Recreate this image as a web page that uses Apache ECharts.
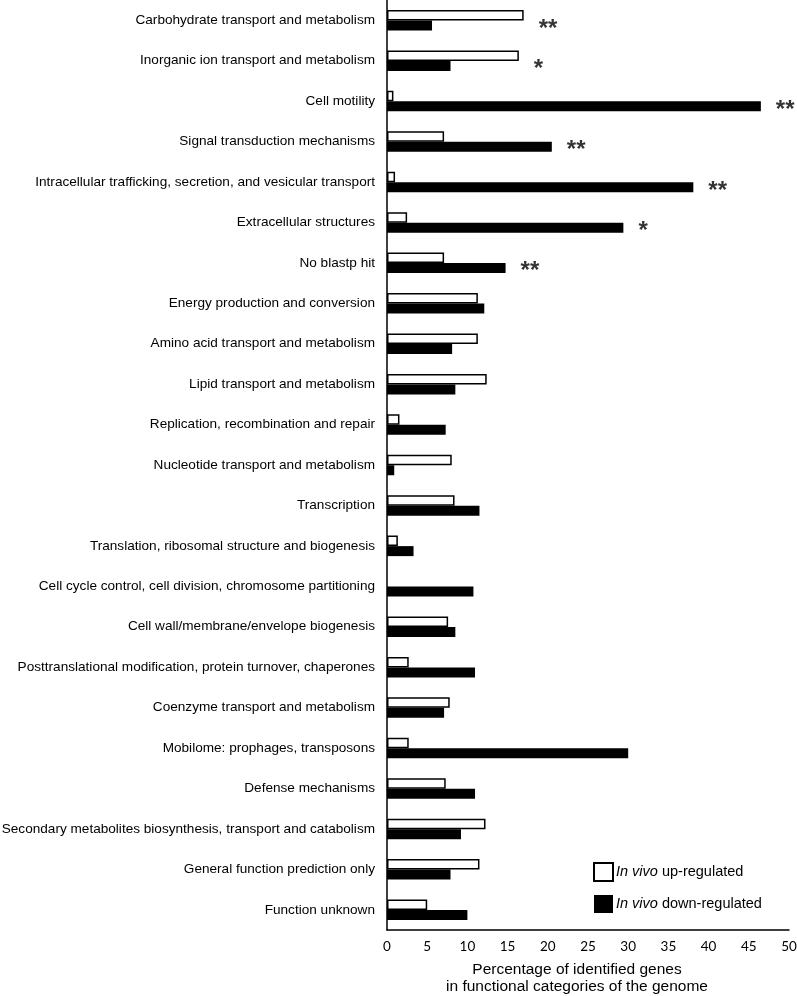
<!DOCTYPE html>
<html>
<head>
<meta charset="utf-8">
<script src="https://cdn.jsdelivr.net/npm/echarts@6/dist/echarts.min.js"></script>
<style>
html,body{margin:0;padding:0;background:#fff;}
#chart{width:797px;height:996px;}
</style>
</head>
<body>
<div id="chart"></div>
<script>
var categories = [
  "Carbohydrate transport and metabolism",
  "Inorganic ion transport and metabolism",
  "Cell motility",
  "Signal transduction mechanisms",
  "Intracellular trafficking, secretion, and vesicular transport",
  "Extracellular structures",
  "No blastp hit",
  "Energy production and conversion",
  "Amino acid transport and metabolism",
  "Lipid transport and metabolism",
  "Replication, recombination and repair",
  "Nucleotide transport and metabolism",
  "Transcription",
  "Translation, ribosomal structure and biogenesis",
  "Cell cycle control, cell division, chromosome partitioning",
  "Cell wall/membrane/envelope biogenesis",
  "Posttranslational modification, protein turnover, chaperones",
  "Coenzyme transport and metabolism",
  "Mobilome: prophages, transposons",
  "Defense mechanisms",
  "Secondary metabolites biosynthesis, transport and catabolism",
  "General function prediction only",
  "Function unknown"
];
var upRegulated = [17.0, 16.4, 0.8, 7.1, 1.0, 2.5, 7.1, 11.3, 11.3, 12.4, 1.55, 8.05, 8.4, 1.35, 0, 7.6, 2.7, 7.8, 2.7, 7.3, 12.25, 11.5, 5.0];
var downRegulated = [5.6, 7.9, 46.5, 20.5, 38.1, 29.4, 14.75, 12.1, 8.1, 8.5, 7.3, 0.9, 11.5, 3.3, 10.75, 8.5, 10.95, 7.1, 30.0, 10.95, 9.2, 7.9, 10.0];
var significance = ["**", "*", "**", "**", "**", "*", "**", "", "", "", "", "", "", "", "", "", "", "", "", "", "", "", ""];
var xTicks = [0, 5, 10, 15, 20, 25, 30, 35, 40, 45, 50];
var seriesNames = ["In vivo up-regulated", "In vivo down-regulated"];

var sigData = [];
for (var i = 0; i < categories.length; i++) {
  if (significance[i]) {
    sigData.push({ value: [Math.max(upRegulated[i], downRegulated[i]), categories[i]], sig: significance[i] });
  }
}
var upData = upRegulated.map(function (v) {
  return v === 0 ? { value: v, itemStyle: { borderWidth: 0 } } : v;
});

var chart = echarts.init(document.getElementById('chart'), null, { renderer: 'canvas' });
chart.setOption({
  animation: false,
  backgroundColor: '#fff',
  grid: { left: 387, right: 8, top: 0, bottom: 66, containLabel: false, outerBoundsMode: 'none' },
  xAxis: {
    type: 'value',
    min: xTicks[0],
    max: xTicks[xTicks.length - 1],
    interval: 5,
    axisLine: { show: true, lineStyle: { color: '#000', width: 1.5 } },
    axisTick: { show: false },
    splitLine: { show: false },
    axisLabel: { color: '#000', fontFamily: 'Lato', fontSize: 13.5, margin: 10 }
  },
  yAxis: {
    type: 'category',
    inverse: true,
    data: categories,
    axisLine: { show: true, lineStyle: { color: '#000', width: 1.5 } },
    axisTick: { show: false },
    splitLine: { show: false },
    axisLabel: { color: '#000', fontFamily: 'Liberation Sans', fontSize: 13.6, margin: 12 }
  },
  legend: {
    data: seriesNames,
    orient: 'vertical',
    left: 588,
    top: 857,
    icon: 'rect',
    itemWidth: 19,
    itemHeight: 18,
    itemGap: 13,
    formatter: function (name) {
      return '{i|In vivo}' + name.replace('In vivo', '');
    },
    textStyle: {
      color: '#000', fontFamily: 'Liberation Sans', fontSize: 14.5, padding: [0, 0, 0, -2],
      rich: { i: { fontStyle: 'italic', fontFamily: 'Liberation Sans', fontSize: 14.5, color: '#000' } }
    }
  },
  series: [
    {
      name: seriesNames[0],
      type: 'bar',
      data: upData,
      barWidth: 10.5,
      barGap: '0%',
      itemStyle: { color: '#fff', borderColor: '#000', borderWidth: 1.5 }
    },
    {
      name: seriesNames[1],
      type: 'bar',
      data: downRegulated,
      barWidth: 10,
      barGap: '0%',
      itemStyle: { color: '#000', borderColor: '#000', borderWidth: 0 }
    },
    {
      name: 'sig',
      type: 'scatter',
      data: sigData,
      symbolSize: 0,
      silent: true,
      label: {
        show: true,
        position: 'right',
        distance: 15,
        offset: [0, 9],
        color: '#000',
        fontFamily: 'Liberation Sans',
        fontWeight: 'bold',
        fontSize: 24,
        formatter: function (p) { return p.data.sig; }
      }
    }
  ],
  graphic: [
    {
      type: 'text',
      x: 577,
      y: 961,
      style: {
        text: 'Percentage of identified genes\nin functional categories of the genome',
        fill: '#000',
        font: '15.5px "Liberation Sans"',
        lineHeight: 17,
        align: 'center',
        textAlign: 'center'
      }
    }
  ]
});
</script>
</body>
</html>
